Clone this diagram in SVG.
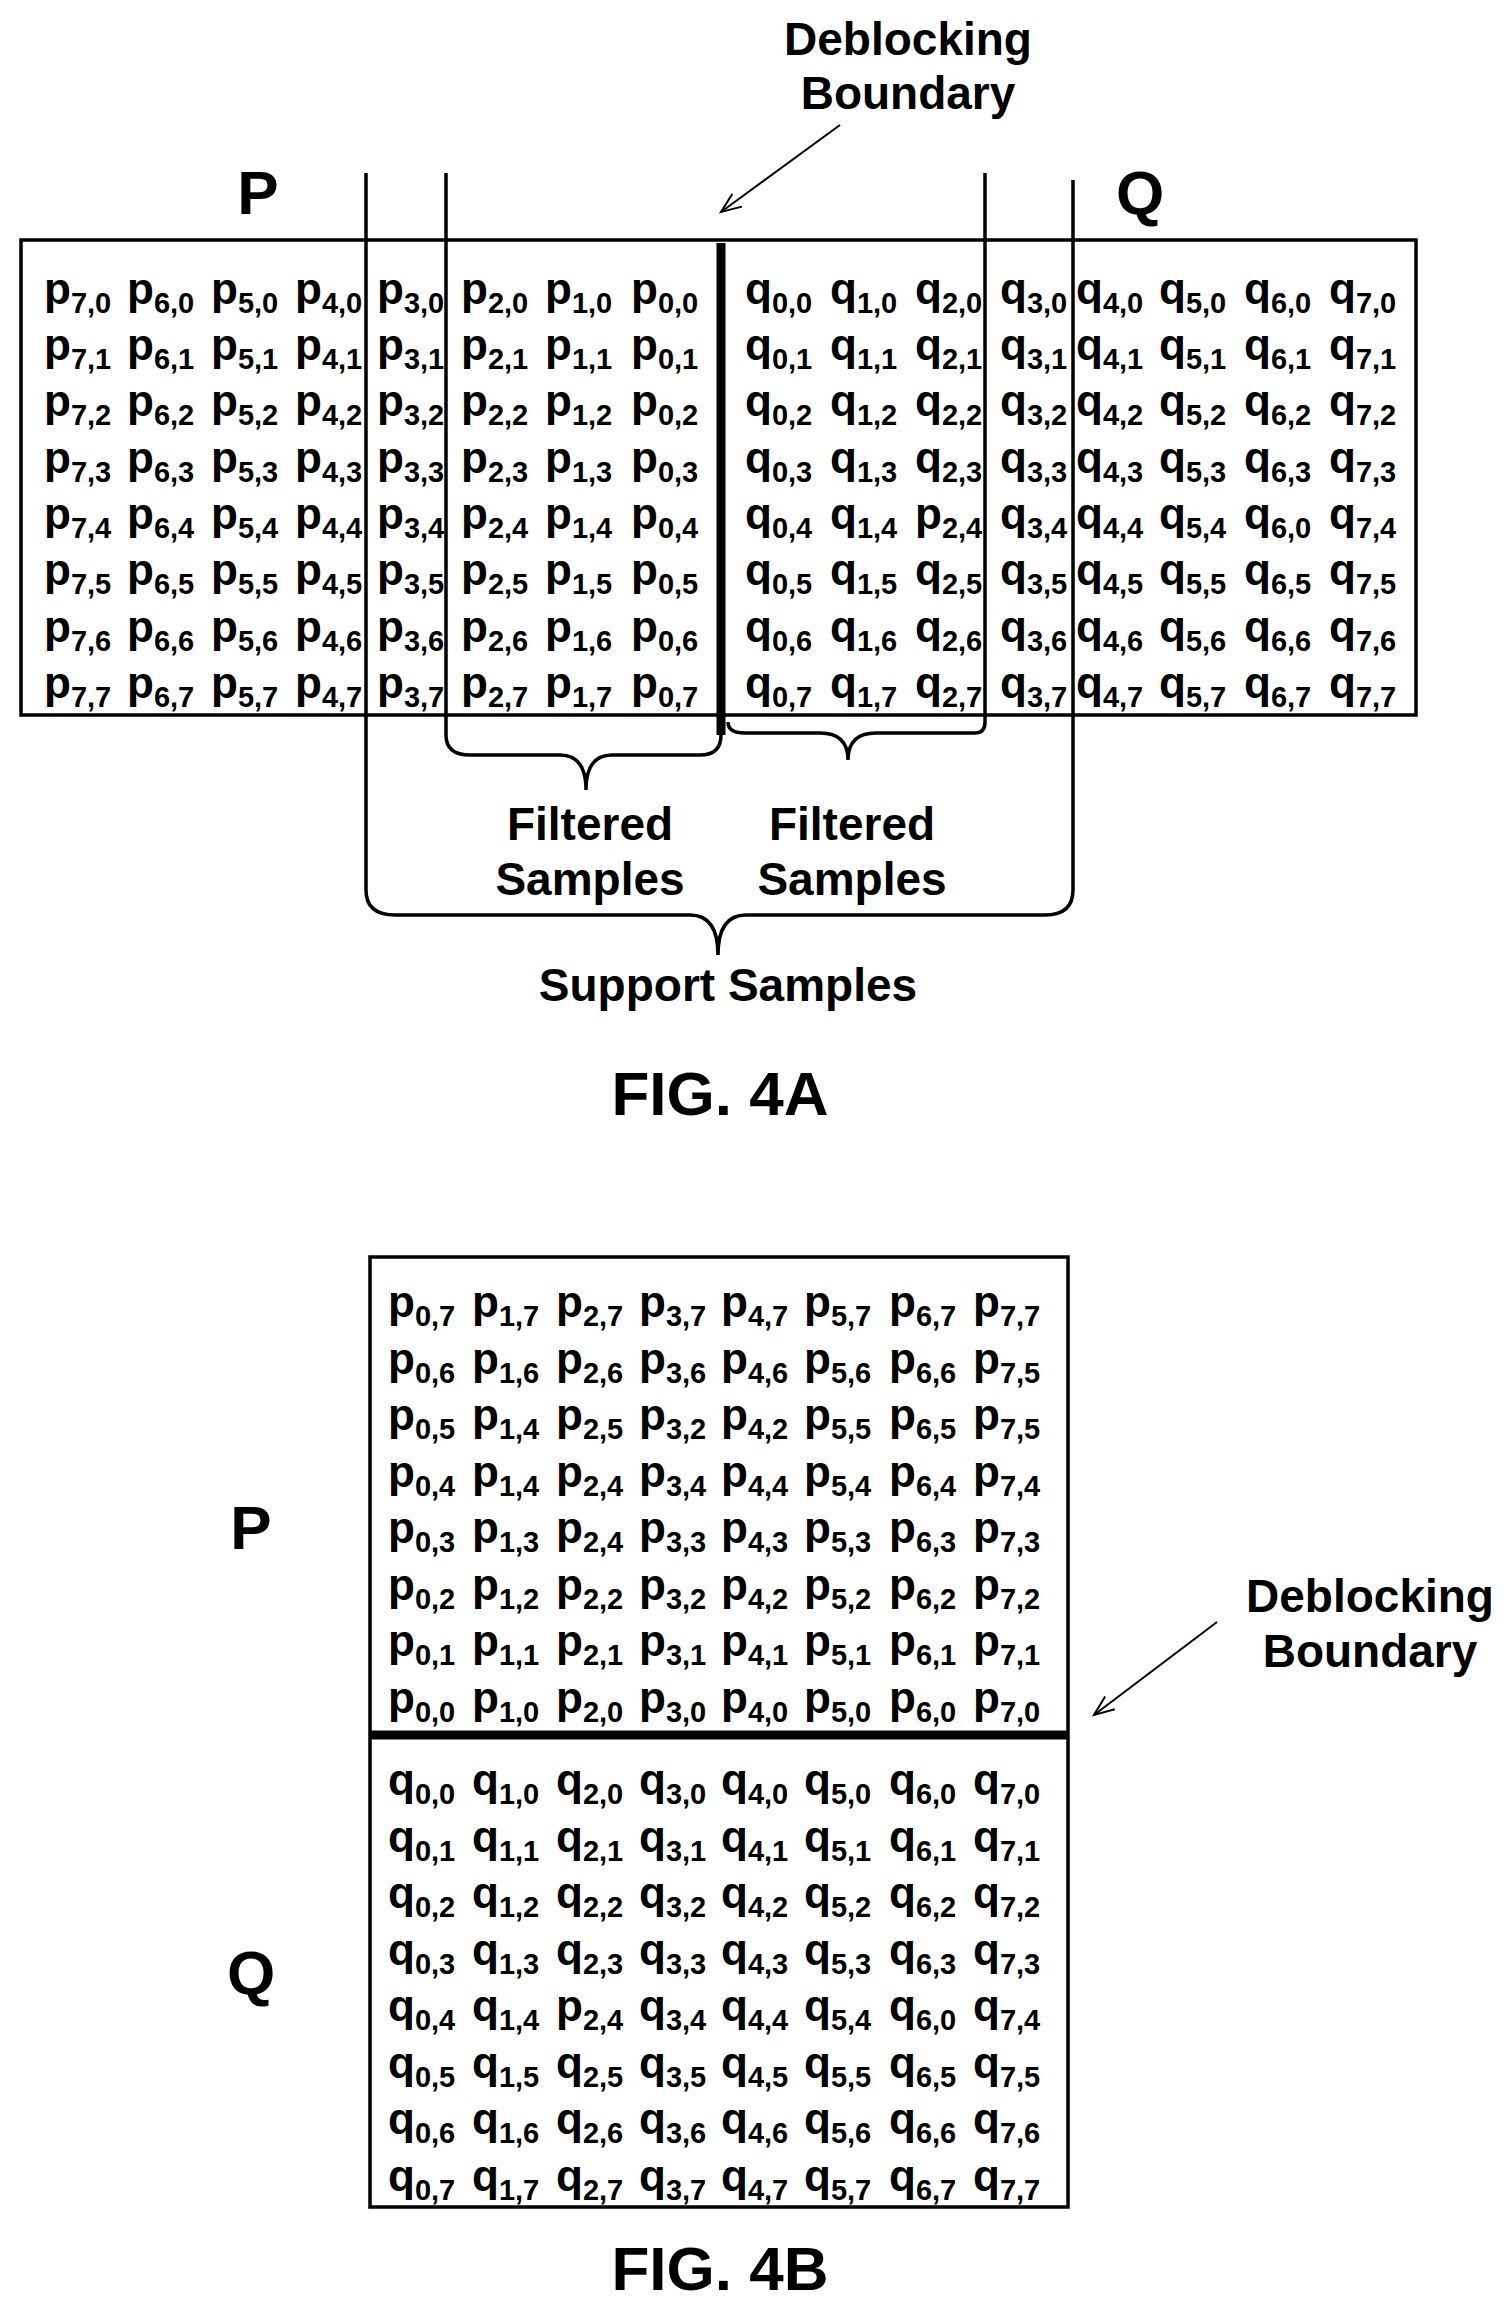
<svg xmlns="http://www.w3.org/2000/svg" width="1510" height="2310" viewBox="0 0 1510 2310">
<style>
text{font-family:"Liberation Sans",Arial,sans-serif;font-weight:bold;fill:#000}
.c{font-size:44px}
.s{font-size:29px}
.lbl{font-size:46px;text-anchor:middle}
.big{font-size:62px;text-anchor:middle}
.ln{stroke:#000;stroke-width:3.5;fill:none}
</style>
<defs><marker id="ah" markerWidth="30" markerHeight="30" refX="21" refY="10" orient="auto" markerUnits="userSpaceOnUse"><path d="M1,2 L21,10 L1,18" fill="none" stroke="#000" stroke-width="2"/></marker></defs>
<g id="figA">
<rect x="21" y="240" width="1395" height="475" class="ln"/>
<g id="gridA">
<text class="c" x="44" y="304">p<tspan class="s" dy="9">7,0</tspan></text><text class="c" x="127" y="304">p<tspan class="s" dy="9">6,0</tspan></text><text class="c" x="211" y="304">p<tspan class="s" dy="9">5,0</tspan></text><text class="c" x="295" y="304">p<tspan class="s" dy="9">4,0</tspan></text><text class="c" x="377" y="304">p<tspan class="s" dy="9">3,0</tspan></text><text class="c" x="461" y="304">p<tspan class="s" dy="9">2,0</tspan></text><text class="c" x="545" y="304">p<tspan class="s" dy="9">1,0</tspan></text><text class="c" x="631" y="304">p<tspan class="s" dy="9">0,0</tspan></text><text class="c" x="745" y="304">q<tspan class="s" dy="9">0,0</tspan></text><text class="c" x="830" y="304">q<tspan class="s" dy="9">1,0</tspan></text><text class="c" x="915" y="304">q<tspan class="s" dy="9">2,0</tspan></text><text class="c" x="1000" y="304">q<tspan class="s" dy="9">3,0</tspan></text><text class="c" x="1076" y="304">q<tspan class="s" dy="9">4,0</tspan></text><text class="c" x="1159" y="304">q<tspan class="s" dy="9">5,0</tspan></text><text class="c" x="1244" y="304">q<tspan class="s" dy="9">6,0</tspan></text><text class="c" x="1329" y="304">q<tspan class="s" dy="9">7,0</tspan></text>
<text class="c" x="44" y="360">p<tspan class="s" dy="9">7,1</tspan></text><text class="c" x="127" y="360">p<tspan class="s" dy="9">6,1</tspan></text><text class="c" x="211" y="360">p<tspan class="s" dy="9">5,1</tspan></text><text class="c" x="295" y="360">p<tspan class="s" dy="9">4,1</tspan></text><text class="c" x="377" y="360">p<tspan class="s" dy="9">3,1</tspan></text><text class="c" x="461" y="360">p<tspan class="s" dy="9">2,1</tspan></text><text class="c" x="545" y="360">p<tspan class="s" dy="9">1,1</tspan></text><text class="c" x="631" y="360">p<tspan class="s" dy="9">0,1</tspan></text><text class="c" x="745" y="360">q<tspan class="s" dy="9">0,1</tspan></text><text class="c" x="830" y="360">q<tspan class="s" dy="9">1,1</tspan></text><text class="c" x="915" y="360">q<tspan class="s" dy="9">2,1</tspan></text><text class="c" x="1000" y="360">q<tspan class="s" dy="9">3,1</tspan></text><text class="c" x="1076" y="360">q<tspan class="s" dy="9">4,1</tspan></text><text class="c" x="1159" y="360">q<tspan class="s" dy="9">5,1</tspan></text><text class="c" x="1244" y="360">q<tspan class="s" dy="9">6,1</tspan></text><text class="c" x="1329" y="360">q<tspan class="s" dy="9">7,1</tspan></text>
<text class="c" x="44" y="416">p<tspan class="s" dy="9">7,2</tspan></text><text class="c" x="127" y="416">p<tspan class="s" dy="9">6,2</tspan></text><text class="c" x="211" y="416">p<tspan class="s" dy="9">5,2</tspan></text><text class="c" x="295" y="416">p<tspan class="s" dy="9">4,2</tspan></text><text class="c" x="377" y="416">p<tspan class="s" dy="9">3,2</tspan></text><text class="c" x="461" y="416">p<tspan class="s" dy="9">2,2</tspan></text><text class="c" x="545" y="416">p<tspan class="s" dy="9">1,2</tspan></text><text class="c" x="631" y="416">p<tspan class="s" dy="9">0,2</tspan></text><text class="c" x="745" y="416">q<tspan class="s" dy="9">0,2</tspan></text><text class="c" x="830" y="416">q<tspan class="s" dy="9">1,2</tspan></text><text class="c" x="915" y="416">q<tspan class="s" dy="9">2,2</tspan></text><text class="c" x="1000" y="416">q<tspan class="s" dy="9">3,2</tspan></text><text class="c" x="1076" y="416">q<tspan class="s" dy="9">4,2</tspan></text><text class="c" x="1159" y="416">q<tspan class="s" dy="9">5,2</tspan></text><text class="c" x="1244" y="416">q<tspan class="s" dy="9">6,2</tspan></text><text class="c" x="1329" y="416">q<tspan class="s" dy="9">7,2</tspan></text>
<text class="c" x="44" y="473">p<tspan class="s" dy="9">7,3</tspan></text><text class="c" x="127" y="473">p<tspan class="s" dy="9">6,3</tspan></text><text class="c" x="211" y="473">p<tspan class="s" dy="9">5,3</tspan></text><text class="c" x="295" y="473">p<tspan class="s" dy="9">4,3</tspan></text><text class="c" x="377" y="473">p<tspan class="s" dy="9">3,3</tspan></text><text class="c" x="461" y="473">p<tspan class="s" dy="9">2,3</tspan></text><text class="c" x="545" y="473">p<tspan class="s" dy="9">1,3</tspan></text><text class="c" x="631" y="473">p<tspan class="s" dy="9">0,3</tspan></text><text class="c" x="745" y="473">q<tspan class="s" dy="9">0,3</tspan></text><text class="c" x="830" y="473">q<tspan class="s" dy="9">1,3</tspan></text><text class="c" x="915" y="473">q<tspan class="s" dy="9">2,3</tspan></text><text class="c" x="1000" y="473">q<tspan class="s" dy="9">3,3</tspan></text><text class="c" x="1076" y="473">q<tspan class="s" dy="9">4,3</tspan></text><text class="c" x="1159" y="473">q<tspan class="s" dy="9">5,3</tspan></text><text class="c" x="1244" y="473">q<tspan class="s" dy="9">6,3</tspan></text><text class="c" x="1329" y="473">q<tspan class="s" dy="9">7,3</tspan></text>
<text class="c" x="44" y="529">p<tspan class="s" dy="9">7,4</tspan></text><text class="c" x="127" y="529">p<tspan class="s" dy="9">6,4</tspan></text><text class="c" x="211" y="529">p<tspan class="s" dy="9">5,4</tspan></text><text class="c" x="295" y="529">p<tspan class="s" dy="9">4,4</tspan></text><text class="c" x="377" y="529">p<tspan class="s" dy="9">3,4</tspan></text><text class="c" x="461" y="529">p<tspan class="s" dy="9">2,4</tspan></text><text class="c" x="545" y="529">p<tspan class="s" dy="9">1,4</tspan></text><text class="c" x="631" y="529">p<tspan class="s" dy="9">0,4</tspan></text><text class="c" x="745" y="529">q<tspan class="s" dy="9">0,4</tspan></text><text class="c" x="830" y="529">q<tspan class="s" dy="9">1,4</tspan></text><text class="c" x="915" y="529">p<tspan class="s" dy="9">2,4</tspan></text><text class="c" x="1000" y="529">q<tspan class="s" dy="9">3,4</tspan></text><text class="c" x="1076" y="529">q<tspan class="s" dy="9">4,4</tspan></text><text class="c" x="1159" y="529">q<tspan class="s" dy="9">5,4</tspan></text><text class="c" x="1244" y="529">q<tspan class="s" dy="9">6,0</tspan></text><text class="c" x="1329" y="529">q<tspan class="s" dy="9">7,4</tspan></text>
<text class="c" x="44" y="585">p<tspan class="s" dy="9">7,5</tspan></text><text class="c" x="127" y="585">p<tspan class="s" dy="9">6,5</tspan></text><text class="c" x="211" y="585">p<tspan class="s" dy="9">5,5</tspan></text><text class="c" x="295" y="585">p<tspan class="s" dy="9">4,5</tspan></text><text class="c" x="377" y="585">p<tspan class="s" dy="9">3,5</tspan></text><text class="c" x="461" y="585">p<tspan class="s" dy="9">2,5</tspan></text><text class="c" x="545" y="585">p<tspan class="s" dy="9">1,5</tspan></text><text class="c" x="631" y="585">p<tspan class="s" dy="9">0,5</tspan></text><text class="c" x="745" y="585">q<tspan class="s" dy="9">0,5</tspan></text><text class="c" x="830" y="585">q<tspan class="s" dy="9">1,5</tspan></text><text class="c" x="915" y="585">q<tspan class="s" dy="9">2,5</tspan></text><text class="c" x="1000" y="585">q<tspan class="s" dy="9">3,5</tspan></text><text class="c" x="1076" y="585">q<tspan class="s" dy="9">4,5</tspan></text><text class="c" x="1159" y="585">q<tspan class="s" dy="9">5,5</tspan></text><text class="c" x="1244" y="585">q<tspan class="s" dy="9">6,5</tspan></text><text class="c" x="1329" y="585">q<tspan class="s" dy="9">7,5</tspan></text>
<text class="c" x="44" y="642">p<tspan class="s" dy="9">7,6</tspan></text><text class="c" x="127" y="642">p<tspan class="s" dy="9">6,6</tspan></text><text class="c" x="211" y="642">p<tspan class="s" dy="9">5,6</tspan></text><text class="c" x="295" y="642">p<tspan class="s" dy="9">4,6</tspan></text><text class="c" x="377" y="642">p<tspan class="s" dy="9">3,6</tspan></text><text class="c" x="461" y="642">p<tspan class="s" dy="9">2,6</tspan></text><text class="c" x="545" y="642">p<tspan class="s" dy="9">1,6</tspan></text><text class="c" x="631" y="642">p<tspan class="s" dy="9">0,6</tspan></text><text class="c" x="745" y="642">q<tspan class="s" dy="9">0,6</tspan></text><text class="c" x="830" y="642">q<tspan class="s" dy="9">1,6</tspan></text><text class="c" x="915" y="642">q<tspan class="s" dy="9">2,6</tspan></text><text class="c" x="1000" y="642">q<tspan class="s" dy="9">3,6</tspan></text><text class="c" x="1076" y="642">q<tspan class="s" dy="9">4,6</tspan></text><text class="c" x="1159" y="642">q<tspan class="s" dy="9">5,6</tspan></text><text class="c" x="1244" y="642">q<tspan class="s" dy="9">6,6</tspan></text><text class="c" x="1329" y="642">q<tspan class="s" dy="9">7,6</tspan></text>
<text class="c" x="44" y="698">p<tspan class="s" dy="9">7,7</tspan></text><text class="c" x="127" y="698">p<tspan class="s" dy="9">6,7</tspan></text><text class="c" x="211" y="698">p<tspan class="s" dy="9">5,7</tspan></text><text class="c" x="295" y="698">p<tspan class="s" dy="9">4,7</tspan></text><text class="c" x="377" y="698">p<tspan class="s" dy="9">3,7</tspan></text><text class="c" x="461" y="698">p<tspan class="s" dy="9">2,7</tspan></text><text class="c" x="545" y="698">p<tspan class="s" dy="9">1,7</tspan></text><text class="c" x="631" y="698">p<tspan class="s" dy="9">0,7</tspan></text><text class="c" x="745" y="698">q<tspan class="s" dy="9">0,7</tspan></text><text class="c" x="830" y="698">q<tspan class="s" dy="9">1,7</tspan></text><text class="c" x="915" y="698">q<tspan class="s" dy="9">2,7</tspan></text><text class="c" x="1000" y="698">q<tspan class="s" dy="9">3,7</tspan></text><text class="c" x="1076" y="698">q<tspan class="s" dy="9">4,7</tspan></text><text class="c" x="1159" y="698">q<tspan class="s" dy="9">5,7</tspan></text><text class="c" x="1244" y="698">q<tspan class="s" dy="9">6,7</tspan></text><text class="c" x="1329" y="698">q<tspan class="s" dy="9">7,7</tspan></text>
</g>
<text class="big" x="258" y="214">P</text>
<text class="big" x="1140" y="214">Q</text>
<text class="lbl" x="908" y="55">Deblocking</text>
<text class="lbl" x="908" y="109">Boundary</text>
<text class="lbl" x="590" y="840">Filtered</text>
<text class="lbl" x="590" y="895">Samples</text>
<text class="lbl" x="852" y="840">Filtered</text>
<text class="lbl" x="852" y="895">Samples</text>
<text class="lbl" x="728" y="1001">Support Samples</text>
<text class="big" x="720" y="1115">FIG. 4A</text>
</g>
<g id="connectors">
<line x1="721" y1="243" x2="721" y2="735" stroke="#000" stroke-width="9"/>
<line x1="840" y1="125" x2="721" y2="212" stroke="#000" stroke-width="2" marker-end="url(#ah)"/>
<path class="ln" d="M446,173 V735 Q446,755 470,755 H560 Q586,755 586,790 Q586,755 612,755 H700 Q721,755 721,735"/>
<path class="ln" d="M728,722 Q728,733 745,733 H820 Q848,733 848,760 Q848,733 876,733 H975 Q985,733 985,722 V173"/>
<path class="ln" d="M366,173 V890 Q366,915 395,915 H690 Q718,915 718,955 Q718,915 746,915 H1045 Q1073,915 1073,890 V180"/>
<line x1="1217" y1="1622" x2="1094" y2="1715" stroke="#000" stroke-width="2" marker-end="url(#ah)"/>
<line x1="370" y1="1735" x2="1068" y2="1735" stroke="#000" stroke-width="9"/>
</g>
<g id="figB">
<rect x="370" y="1257" width="698" height="950" class="ln"/>
<g id="gridB">
<text class="c" x="388" y="1317">p<tspan class="s" dy="9">0,7</tspan></text><text class="c" x="472" y="1317">p<tspan class="s" dy="9">1,7</tspan></text><text class="c" x="556" y="1317">p<tspan class="s" dy="9">2,7</tspan></text><text class="c" x="639" y="1317">p<tspan class="s" dy="9">3,7</tspan></text><text class="c" x="721" y="1317">p<tspan class="s" dy="9">4,7</tspan></text><text class="c" x="804" y="1317">p<tspan class="s" dy="9">5,7</tspan></text><text class="c" x="889" y="1317">p<tspan class="s" dy="9">6,7</tspan></text><text class="c" x="973" y="1317">p<tspan class="s" dy="9">7,7</tspan></text>
<text class="c" x="388" y="1374">p<tspan class="s" dy="9">0,6</tspan></text><text class="c" x="472" y="1374">p<tspan class="s" dy="9">1,6</tspan></text><text class="c" x="556" y="1374">p<tspan class="s" dy="9">2,6</tspan></text><text class="c" x="639" y="1374">p<tspan class="s" dy="9">3,6</tspan></text><text class="c" x="721" y="1374">p<tspan class="s" dy="9">4,6</tspan></text><text class="c" x="804" y="1374">p<tspan class="s" dy="9">5,6</tspan></text><text class="c" x="889" y="1374">p<tspan class="s" dy="9">6,6</tspan></text><text class="c" x="973" y="1374">p<tspan class="s" dy="9">7,5</tspan></text>
<text class="c" x="388" y="1430">p<tspan class="s" dy="9">0,5</tspan></text><text class="c" x="472" y="1430">p<tspan class="s" dy="9">1,4</tspan></text><text class="c" x="556" y="1430">p<tspan class="s" dy="9">2,5</tspan></text><text class="c" x="639" y="1430">p<tspan class="s" dy="9">3,2</tspan></text><text class="c" x="721" y="1430">p<tspan class="s" dy="9">4,2</tspan></text><text class="c" x="804" y="1430">p<tspan class="s" dy="9">5,5</tspan></text><text class="c" x="889" y="1430">p<tspan class="s" dy="9">6,5</tspan></text><text class="c" x="973" y="1430">p<tspan class="s" dy="9">7,5</tspan></text>
<text class="c" x="388" y="1487">p<tspan class="s" dy="9">0,4</tspan></text><text class="c" x="472" y="1487">p<tspan class="s" dy="9">1,4</tspan></text><text class="c" x="556" y="1487">p<tspan class="s" dy="9">2,4</tspan></text><text class="c" x="639" y="1487">p<tspan class="s" dy="9">3,4</tspan></text><text class="c" x="721" y="1487">p<tspan class="s" dy="9">4,4</tspan></text><text class="c" x="804" y="1487">p<tspan class="s" dy="9">5,4</tspan></text><text class="c" x="889" y="1487">p<tspan class="s" dy="9">6,4</tspan></text><text class="c" x="973" y="1487">p<tspan class="s" dy="9">7,4</tspan></text>
<text class="c" x="388" y="1543">p<tspan class="s" dy="9">0,3</tspan></text><text class="c" x="472" y="1543">p<tspan class="s" dy="9">1,3</tspan></text><text class="c" x="556" y="1543">p<tspan class="s" dy="9">2,4</tspan></text><text class="c" x="639" y="1543">p<tspan class="s" dy="9">3,3</tspan></text><text class="c" x="721" y="1543">p<tspan class="s" dy="9">4,3</tspan></text><text class="c" x="804" y="1543">p<tspan class="s" dy="9">5,3</tspan></text><text class="c" x="889" y="1543">p<tspan class="s" dy="9">6,3</tspan></text><text class="c" x="973" y="1543">p<tspan class="s" dy="9">7,3</tspan></text>
<text class="c" x="388" y="1600">p<tspan class="s" dy="9">0,2</tspan></text><text class="c" x="472" y="1600">p<tspan class="s" dy="9">1,2</tspan></text><text class="c" x="556" y="1600">p<tspan class="s" dy="9">2,2</tspan></text><text class="c" x="639" y="1600">p<tspan class="s" dy="9">3,2</tspan></text><text class="c" x="721" y="1600">p<tspan class="s" dy="9">4,2</tspan></text><text class="c" x="804" y="1600">p<tspan class="s" dy="9">5,2</tspan></text><text class="c" x="889" y="1600">p<tspan class="s" dy="9">6,2</tspan></text><text class="c" x="973" y="1600">p<tspan class="s" dy="9">7,2</tspan></text>
<text class="c" x="388" y="1656">p<tspan class="s" dy="9">0,1</tspan></text><text class="c" x="472" y="1656">p<tspan class="s" dy="9">1,1</tspan></text><text class="c" x="556" y="1656">p<tspan class="s" dy="9">2,1</tspan></text><text class="c" x="639" y="1656">p<tspan class="s" dy="9">3,1</tspan></text><text class="c" x="721" y="1656">p<tspan class="s" dy="9">4,1</tspan></text><text class="c" x="804" y="1656">p<tspan class="s" dy="9">5,1</tspan></text><text class="c" x="889" y="1656">p<tspan class="s" dy="9">6,1</tspan></text><text class="c" x="973" y="1656">p<tspan class="s" dy="9">7,1</tspan></text>
<text class="c" x="388" y="1713">p<tspan class="s" dy="9">0,0</tspan></text><text class="c" x="472" y="1713">p<tspan class="s" dy="9">1,0</tspan></text><text class="c" x="556" y="1713">p<tspan class="s" dy="9">2,0</tspan></text><text class="c" x="639" y="1713">p<tspan class="s" dy="9">3,0</tspan></text><text class="c" x="721" y="1713">p<tspan class="s" dy="9">4,0</tspan></text><text class="c" x="804" y="1713">p<tspan class="s" dy="9">5,0</tspan></text><text class="c" x="889" y="1713">p<tspan class="s" dy="9">6,0</tspan></text><text class="c" x="973" y="1713">p<tspan class="s" dy="9">7,0</tspan></text>
<text class="c" x="388" y="1795">q<tspan class="s" dy="9">0,0</tspan></text><text class="c" x="472" y="1795">q<tspan class="s" dy="9">1,0</tspan></text><text class="c" x="556" y="1795">q<tspan class="s" dy="9">2,0</tspan></text><text class="c" x="639" y="1795">q<tspan class="s" dy="9">3,0</tspan></text><text class="c" x="721" y="1795">q<tspan class="s" dy="9">4,0</tspan></text><text class="c" x="804" y="1795">q<tspan class="s" dy="9">5,0</tspan></text><text class="c" x="889" y="1795">q<tspan class="s" dy="9">6,0</tspan></text><text class="c" x="973" y="1795">q<tspan class="s" dy="9">7,0</tspan></text>
<text class="c" x="388" y="1852">q<tspan class="s" dy="9">0,1</tspan></text><text class="c" x="472" y="1852">q<tspan class="s" dy="9">1,1</tspan></text><text class="c" x="556" y="1852">q<tspan class="s" dy="9">2,1</tspan></text><text class="c" x="639" y="1852">q<tspan class="s" dy="9">3,1</tspan></text><text class="c" x="721" y="1852">q<tspan class="s" dy="9">4,1</tspan></text><text class="c" x="804" y="1852">q<tspan class="s" dy="9">5,1</tspan></text><text class="c" x="889" y="1852">q<tspan class="s" dy="9">6,1</tspan></text><text class="c" x="973" y="1852">q<tspan class="s" dy="9">7,1</tspan></text>
<text class="c" x="388" y="1908">q<tspan class="s" dy="9">0,2</tspan></text><text class="c" x="472" y="1908">q<tspan class="s" dy="9">1,2</tspan></text><text class="c" x="556" y="1908">q<tspan class="s" dy="9">2,2</tspan></text><text class="c" x="639" y="1908">q<tspan class="s" dy="9">3,2</tspan></text><text class="c" x="721" y="1908">q<tspan class="s" dy="9">4,2</tspan></text><text class="c" x="804" y="1908">q<tspan class="s" dy="9">5,2</tspan></text><text class="c" x="889" y="1908">q<tspan class="s" dy="9">6,2</tspan></text><text class="c" x="973" y="1908">q<tspan class="s" dy="9">7,2</tspan></text>
<text class="c" x="388" y="1965">q<tspan class="s" dy="9">0,3</tspan></text><text class="c" x="472" y="1965">q<tspan class="s" dy="9">1,3</tspan></text><text class="c" x="556" y="1965">q<tspan class="s" dy="9">2,3</tspan></text><text class="c" x="639" y="1965">q<tspan class="s" dy="9">3,3</tspan></text><text class="c" x="721" y="1965">q<tspan class="s" dy="9">4,3</tspan></text><text class="c" x="804" y="1965">q<tspan class="s" dy="9">5,3</tspan></text><text class="c" x="889" y="1965">q<tspan class="s" dy="9">6,3</tspan></text><text class="c" x="973" y="1965">q<tspan class="s" dy="9">7,3</tspan></text>
<text class="c" x="388" y="2021">q<tspan class="s" dy="9">0,4</tspan></text><text class="c" x="472" y="2021">q<tspan class="s" dy="9">1,4</tspan></text><text class="c" x="556" y="2021">p<tspan class="s" dy="9">2,4</tspan></text><text class="c" x="639" y="2021">q<tspan class="s" dy="9">3,4</tspan></text><text class="c" x="721" y="2021">q<tspan class="s" dy="9">4,4</tspan></text><text class="c" x="804" y="2021">q<tspan class="s" dy="9">5,4</tspan></text><text class="c" x="889" y="2021">q<tspan class="s" dy="9">6,0</tspan></text><text class="c" x="973" y="2021">q<tspan class="s" dy="9">7,4</tspan></text>
<text class="c" x="388" y="2078">q<tspan class="s" dy="9">0,5</tspan></text><text class="c" x="472" y="2078">q<tspan class="s" dy="9">1,5</tspan></text><text class="c" x="556" y="2078">q<tspan class="s" dy="9">2,5</tspan></text><text class="c" x="639" y="2078">q<tspan class="s" dy="9">3,5</tspan></text><text class="c" x="721" y="2078">q<tspan class="s" dy="9">4,5</tspan></text><text class="c" x="804" y="2078">q<tspan class="s" dy="9">5,5</tspan></text><text class="c" x="889" y="2078">q<tspan class="s" dy="9">6,5</tspan></text><text class="c" x="973" y="2078">q<tspan class="s" dy="9">7,5</tspan></text>
<text class="c" x="388" y="2134">q<tspan class="s" dy="9">0,6</tspan></text><text class="c" x="472" y="2134">q<tspan class="s" dy="9">1,6</tspan></text><text class="c" x="556" y="2134">q<tspan class="s" dy="9">2,6</tspan></text><text class="c" x="639" y="2134">q<tspan class="s" dy="9">3,6</tspan></text><text class="c" x="721" y="2134">q<tspan class="s" dy="9">4,6</tspan></text><text class="c" x="804" y="2134">q<tspan class="s" dy="9">5,6</tspan></text><text class="c" x="889" y="2134">q<tspan class="s" dy="9">6,6</tspan></text><text class="c" x="973" y="2134">q<tspan class="s" dy="9">7,6</tspan></text>
<text class="c" x="388" y="2191">q<tspan class="s" dy="9">0,7</tspan></text><text class="c" x="472" y="2191">q<tspan class="s" dy="9">1,7</tspan></text><text class="c" x="556" y="2191">q<tspan class="s" dy="9">2,7</tspan></text><text class="c" x="639" y="2191">q<tspan class="s" dy="9">3,7</tspan></text><text class="c" x="721" y="2191">q<tspan class="s" dy="9">4,7</tspan></text><text class="c" x="804" y="2191">q<tspan class="s" dy="9">5,7</tspan></text><text class="c" x="889" y="2191">q<tspan class="s" dy="9">6,7</tspan></text><text class="c" x="973" y="2191">q<tspan class="s" dy="9">7,7</tspan></text>
</g>
<text class="big" x="251" y="1549">P</text>
<text class="big" x="251" y="1994">Q</text>
<text class="lbl" x="1370" y="1612">Deblocking</text>
<text class="lbl" x="1370" y="1667">Boundary</text>
<text class="big" x="720" y="2290">FIG. 4B</text>
</g>
</svg>
